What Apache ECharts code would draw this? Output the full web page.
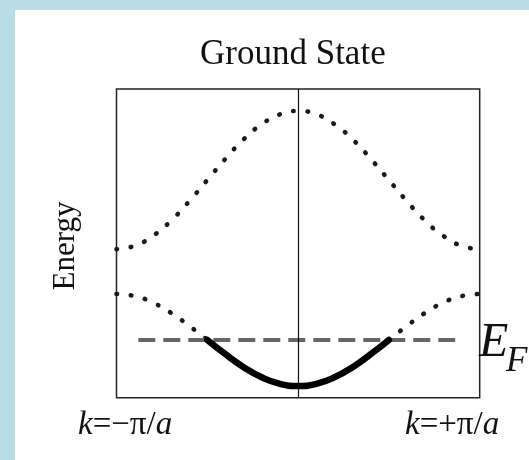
<!DOCTYPE html>
<html>
<head>
<meta charset="utf-8">
<script src="https://cdn.jsdelivr.net/npm/echarts@6/dist/echarts.min.js"></script>
<style>
  html, body { margin: 0; padding: 0; width: 529px; height: 460px; background: #b9dde7; overflow: hidden; }
  #chart { position: absolute; left: 15px; top: 10px; width: 514px; height: 450px; background: #ffffff; }
</style>
</head>
<body>
<div id="chart"></div>
<script>
// Wave vector across the first Brillouin zone, in units of pi/a
const kValues = [-1.0, -0.9, -0.8, -0.7, -0.6, -0.5, -0.4, -0.3, -0.2, -0.1, 0.0,
                 0.1, 0.2, 0.3, 0.4, 0.5, 0.6, 0.7, 0.8, 0.9, 1.0];
// Upper (empty) band energy, arbitrary units
const upperBand = [4.81, 4.92, 5.24, 5.73, 6.36, 7.05, 7.74, 8.37, 8.86, 9.18, 9.29,
                   9.18, 8.86, 8.37, 7.74, 7.05, 6.36, 5.73, 5.24, 4.92, 4.81];
// Lower band energy, arbitrary units
const lowerBand = [3.36, 3.29, 3.08, 2.75, 2.33, 1.87, 1.41, 0.99, 0.66, 0.45, 0.38,
                   0.45, 0.66, 0.99, 1.41, 1.87, 2.33, 2.75, 3.08, 3.29, 3.36];
// Fermi level and the k-range over which its marker is drawn
const fermiEnergy = 1.87;
const fermiSpan = [-0.88, 0.865];
// Zone-edge labels
const edgeLabels = ['k=−π/a', 'k=+π/a'];

const pairs = (ys) => kValues.map((k, i) => [k, ys[i]]);
const occupied = kValues.map((k, i) => [k, lowerBand[i] <= fermiEnergy ? lowerBand[i] : null]);
const emptyLower = kValues.map((k, i) => [k, lowerBand[i] >= fermiEnergy ? lowerBand[i] : null]);

const serif = '"Liberation Serif", "DejaVu Serif", serif';
const dotted = { color: '#1a1a1a', width: 4.6, type: [0.6, 13.8], cap: 'round' };

// Edge label with italic variables and upright symbols
function edgeRich(label) {
  const m = label.match(/^(k)(.*?)(a)$/);
  return '{i|' + m[1] + '}{u|' + m[2] + '}{i|' + m[3] + '}';
}
const edgeRichStyle = {
  i: { fontFamily: serif, fontStyle: 'italic', fontSize: 33, fill: '#111' },
  u: { fontFamily: serif, fontSize: 33, fill: '#111' }
};

const chart = echarts.init(document.getElementById('chart'), null, { renderer: 'canvas' });
chart.setOption({
  animation: false,
  title: {
    text: 'Ground State',
    left: 180, top: 22,
    textStyle: { fontFamily: serif, fontWeight: 'normal', fontSize: 35, color: '#111' }
  },
  grid: {
    left: 101.5, top: 79, right: 49.3, bottom: 62.3,
    show: true, borderColor: '#222', borderWidth: 1.5, backgroundColor: 'transparent'
  },
  xAxis: {
    type: 'value', min: -1, max: 1,
    axisLine: { show: false }, axisTick: { show: false },
    axisLabel: { show: false }, splitLine: { show: false }
  },
  yAxis: {
    type: 'value', min: 0, max: 10,
    axisLine: { show: false }, axisTick: { show: false },
    axisLabel: { show: false }, splitLine: { show: false }
  },
  series: [
    {
      name: 'upper band', type: 'line', data: pairs(upperBand),
      smooth: true, symbol: 'none', lineStyle: dotted
    },
    {
      name: 'lower band (empty)', type: 'line', data: emptyLower,
      smooth: true, symbol: 'none', connectNulls: false, lineStyle: dotted
    },
    {
      name: 'Fermi level', type: 'line', z: 3,
      data: fermiSpan.map(k => [k, fermiEnergy]),
      symbol: 'none',
      lineStyle: { color: '#666', width: 4, type: [17, 8] },
      markLine: {
        silent: true, symbol: 'none', label: { show: false },
        lineStyle: { color: '#111', width: 1.2, type: 'solid' },
        data: [{ xAxis: 0 }]
      }
    },
    {
      name: 'lower band (occupied)', type: 'line', data: occupied, z: 4,
      smooth: true, symbol: 'none', connectNulls: false,
      lineStyle: { color: '#000', width: 6.5, cap: 'round' }
    }
  ],
  graphic: [
    {
      type: 'text', x: 51, y: 236, rotation: Math.PI / 2,
      style: { text: 'Energy', fontFamily: serif, fontSize: 31, fill: '#111', align: 'center', verticalAlign: 'middle' }
    },
    {
      type: 'text', x: 63, y: 399,
      style: { text: edgeRich(edgeLabels[0]), rich: edgeRichStyle, verticalAlign: 'top' }
    },
    {
      type: 'text', x: 390, y: 399,
      style: { text: edgeRich(edgeLabels[1]), rich: edgeRichStyle, verticalAlign: 'top' }
    },
    {
      type: 'text', x: 464, y: 309,
      style: { text: 'E', fontFamily: serif, fontStyle: 'italic', fontSize: 48, fill: '#111', verticalAlign: 'top' }
    },
    {
      type: 'text', x: 491, y: 334,
      style: { text: 'F', fontFamily: serif, fontStyle: 'italic', fontSize: 35, fill: '#111', verticalAlign: 'top' }
    }
  ]
});
</script>
</body>
</html>
